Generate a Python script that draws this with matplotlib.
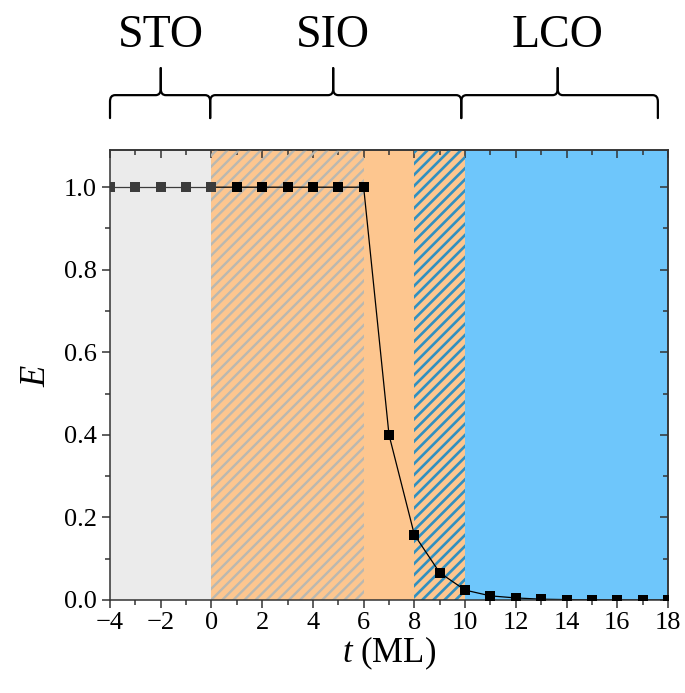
import numpy as np
import matplotlib
matplotlib.use("Agg")
import matplotlib.pyplot as plt
from matplotlib.path import Path
from matplotlib.patches import PathPatch
from matplotlib.ticker import MultipleLocator, FormatStrFormatter
import matplotlib.transforms as mtransforms

plt.rcParams.update({"font.family": "serif", "font.serif": ["Liberation Serif", "DejaVu Serif"],
                     "mathtext.fontset": "custom", "mathtext.it": "Liberation Serif:italic",
                     "mathtext.rm": "Liberation Serif"})

# thickness (ML) and E values
t = np.arange(-4, 19)
E = np.array([1.0, 1.0, 1.0, 1.0, 1.0, 1.0, 1.0, 1.0, 1.0, 1.0, 1.0,
              0.40, 0.158, 0.066, 0.024, 0.010, 0.005, 0.002, 0.001, 0.0005, 0.0, 0.0, 0.0])

# layer regions: (start, end, face, hatch, hatch colour, hatch width)
regions = [(-4, 0, "#ebebeb", None, None, 0),
           (0, 6, "#fdc68f", "///", "#bab8b0", 1.7),
           (6, 8, "#fdc68f", None, None, 0),
           (8, 10, "#fdc68f", "///", "#3190c0", 1.9),
           (10, 18, "#6ec6fb", None, None, 0)]

# brace labels on top: (left, right, tip, label)
layers = [(-4, -0.05, -2, "STO"), (-0.05, 9.85, 4.8, "SIO"), (9.85, 17.6, 13.65, "LCO")]

fig = plt.figure(figsize=(6.85, 6.93), dpi=100)
ax = fig.add_axes([0.1606, 0.1342, 0.8146, 0.6493])

for x0, x1, fc, hatch, hc, hw in regions:
    ax.axvspan(x0, x1, facecolor=fc, lw=0, zorder=0)
    if hatch:
        p = ax.axvspan(x0, x1, facecolor="none", edgecolor=hc, hatch=hatch, lw=0, zorder=0.5)
        if hasattr(p, "set_hatch_linewidth"):
            p.set_hatch_linewidth(hw)

grey = t <= 0
ax.plot(t[t >= 0], E[t >= 0], color="black", lw=0.9, zorder=2)
ax.plot(t[grey], E[grey], color="#3c3c3c", lw=0.9, zorder=2)
ax.scatter(t[~grey], E[~grey], marker="s", s=52, color="black", zorder=3, lw=0)
ax.scatter(t[grey], E[grey], marker="s", s=52, color="#3c3c3c", zorder=3, lw=0)

ax.set_xlim(-4, 18)
ax.set_ylim(0, 1.09)
ax.xaxis.set_major_locator(MultipleLocator(2))
ax.xaxis.set_minor_locator(MultipleLocator(1))
ax.yaxis.set_major_locator(MultipleLocator(0.2))
ax.yaxis.set_minor_locator(MultipleLocator(0.1))
ax.yaxis.set_major_formatter(FormatStrFormatter("%.1f"))
ax.tick_params(which="both", direction="out", labelsize=19, width=1.1, color="#333333")
ax.tick_params(which="major", length=6)
ax.tick_params(which="minor", length=3.5)
ax.tick_params(axis="x", pad=3)
for s in ax.spines.values():
    s.set_linewidth(1.1)
    s.set_color("#333333")

# mirrored inward ticks on top and right
axt = ax.secondary_xaxis("top")
axt.xaxis.set_major_locator(MultipleLocator(2))
axt.xaxis.set_minor_locator(MultipleLocator(1))
axt.tick_params(which="both", direction="in", labeltop=False, width=1.1, color="#333333")
axt.tick_params(which="major", length=6)
axt.tick_params(which="minor", length=3.5)
axr = ax.secondary_yaxis("right")
axr.yaxis.set_major_locator(MultipleLocator(0.2))
axr.yaxis.set_minor_locator(MultipleLocator(0.1))
axr.tick_params(which="both", direction="in", labelright=False, width=1.1, color="#333333")
axr.tick_params(which="major", length=6)
axr.tick_params(which="minor", length=3.5)
for s in list(axt.spines.values()) + list(axr.spines.values()):
    s.set_linewidth(1.1)
    s.set_color("#333333")

ax.set_xlabel("$t$ (ML)", fontsize=25, labelpad=0)
ax.set_ylabel("$E$", fontsize=25, labelpad=8)

# curly braces above the axes
tr = mtransforms.blended_transform_factory(ax.transData, ax.transAxes)
yb, yh, yt = 1.071, 1.122, 1.182
rx, ry = 0.2, 0.014


def half_brace(xa, xm, sign):
    verts = [(xa, yb), (xa, yh - ry), (xa, yh), (xa + sign * rx, yh),
             (xm - sign * rx, yh), (xm, yh), (xm, yh + ry), (xm, yt)]
    codes = [Path.MOVETO, Path.LINETO, Path.CURVE3, Path.CURVE3,
             Path.LINETO, Path.CURVE3, Path.CURVE3, Path.LINETO]
    return PathPatch(Path(verts, codes), transform=tr, fill=False, lw=1.6,
                     color="black", clip_on=False, capstyle="round", joinstyle="round")


for x0, x1, xm, name in layers:
    ax.add_patch(half_brace(x0, xm, 1))
    ax.add_patch(half_brace(x1, xm, -1))
    ax.text(xm, 1.229, name, transform=tr, ha="center", va="baseline", fontsize=33)

fig.savefig("out.png", dpi=100)
